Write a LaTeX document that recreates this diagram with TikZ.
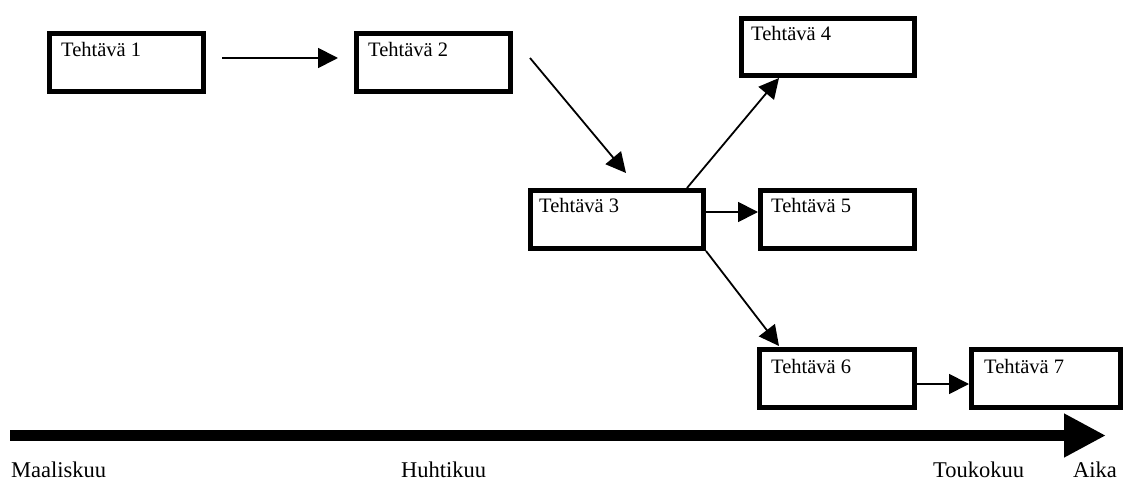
\documentclass[tikz,border=0pt]{standalone}
\usepackage{fontspec}
\setmainfont{Liberation Serif}
\usetikzlibrary{arrows.meta}
\begin{document}
\begin{tikzpicture}[x=1pt,y=-1pt,
  task/.style={draw=black, line width=5pt, fill=white, rectangle, inner sep=0pt, anchor=north west},
  lbl/.style={anchor=base west, inner sep=0pt, font=\fontsize{20.5}{24}\selectfont},
  axlbl/.style={anchor=base west, inner sep=0pt, font=\fontsize{22.5}{26}\selectfont},
  conn/.style={line width=1.8pt, -{Triangle[length=20pt, width=20pt]}},
  axis/.style={line width=11pt, -{Triangle[length=42pt, width=41pt]}}]
\useasboundingbox (0,0) rectangle (1127,481);
% boxes (outer size minus line width)
\node[task, minimum width=154pt, minimum height=58pt] (b1) at (47,31) {};
\node[task, minimum width=154pt, minimum height=58pt] (b2) at (354,31) {};
\node[task, minimum width=173pt, minimum height=58pt] (b3) at (528,188) {};
\node[task, minimum width=173pt, minimum height=57pt] (b4) at (739,16) {};
\node[task, minimum width=154pt, minimum height=58pt] (b5) at (758,188) {};
\node[task, minimum width=155pt, minimum height=58pt] (b6) at (757,347) {};
\node[task, minimum width=149pt, minimum height=58pt] (b7) at (969,347) {};
% labels
\node[lbl] (t1) at ([shift={(14,26)}]b1.north west) {Tehtävä 1};
\node[lbl] (t2) at ([shift={(14,26)}]b2.north west) {Tehtävä 2};
\node[lbl] (t3) at ([shift={(11,25)}]b3.north west) {Tehtävä 3};
\node[lbl] (t4) at ([shift={(12,25)}]b4.north west) {Tehtävä 4};
\node[lbl] (t5) at ([shift={(13,25)}]b5.north west) {Tehtävä 5};
\node[lbl] (t6) at ([shift={(14,26)}]b6.north west) {Tehtävä 6};
\node[lbl] (t7) at ([shift={(15,26)}]b7.north west) {Tehtävä 7};
% connectors
\draw[conn] ([shift={(16,-4.5)}]b1.east) -- ([shift={(-16,-4.5)}]b2.west);
\draw[conn] ([shift={(17,-4.5)}]b2.east) -- ([shift={(9,-15)}]b3.north);
\draw[conn] ([shift={(-19,0)}]b3.north east) -- ([shift={(40,0)}]b4.south west);
\draw[conn] ([shift={(0,-7.5)}]b3.east) -- ([shift={(0,-7.5)}]b5.west);
\draw[conn] (b3.south east) -- ([shift={(22,-1)}]b6.north west);
\draw[conn] ([shift={(0,5.5)}]b6.east) -- ([shift={(0,5.5)}]b7.west);
% time axis
\coordinate (a0) at (10,435.5);
\coordinate (a1) at (1106,435.5);
\draw[axis] (a0) -- (a1);
\node[axlbl] (m1) at (11,477.5) {Maaliskuu};
\node[axlbl] (m2) at (401,477.5) {Huhtikuu};
\node[axlbl] (m3) at (933,477.5) {Toukokuu};
\node[axlbl] (m4) at (1073,477.5) {Aika};
\end{tikzpicture}
\end{document}
